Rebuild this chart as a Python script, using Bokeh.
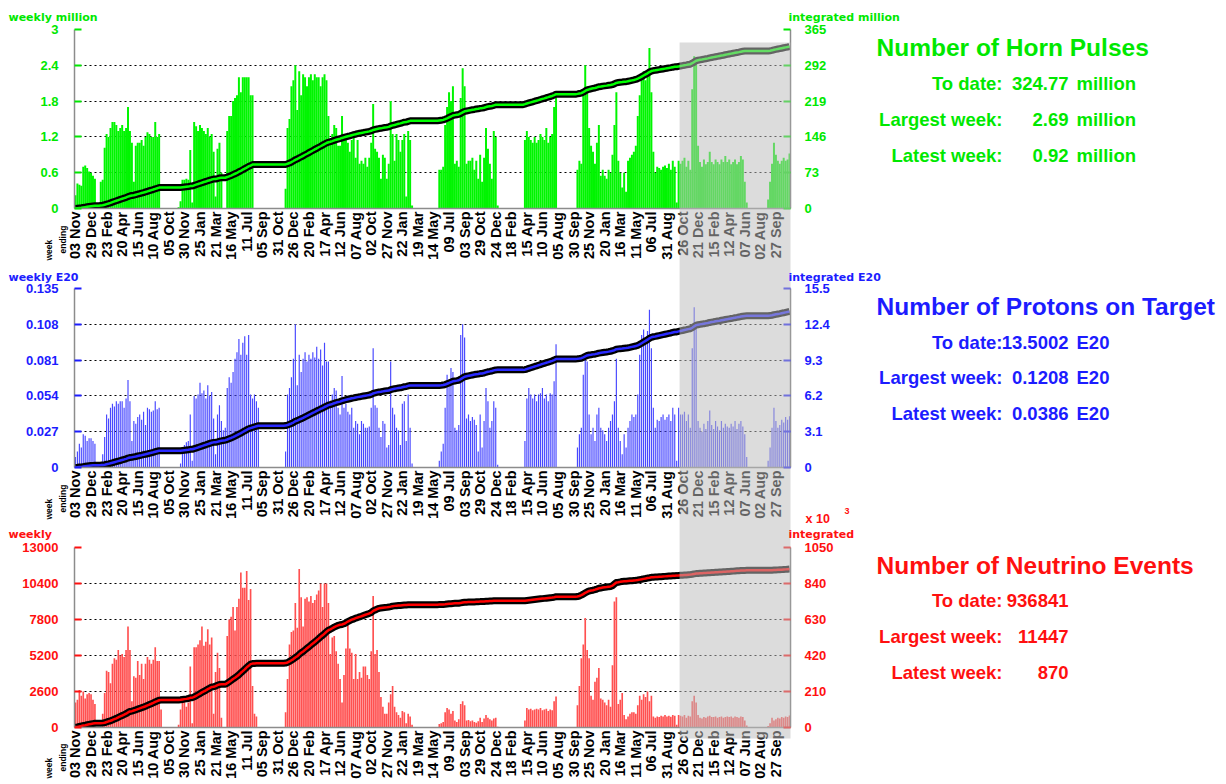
import numpy as np
from bokeh.plotting import figure
from bokeh.models import Range1d, LinearAxis, FixedTicker
from bokeh.layouts import column
from bokeh.embed import file_html
from bokeh.resources import INLINE
from bokeh.core.properties import value

# ---------------- data (one row = 8 weeks) ----------------
horn_weekly = [
    0.22, 0.42, 0.40, 0.38, 0.70, 0.72, 0.68, 0.62,
    0.60, 0.55, 0.50, 0.00, 0.00, 0.45, 0.48, 1.02,
    1.25, 1.20, 1.35, 1.45, 1.45, 1.40, 1.30, 1.35,
    1.40, 1.30, 1.35, 1.70, 1.30, 1.10, 0.45, 1.05,
    1.10, 1.10, 1.15, 1.05, 1.20, 1.28, 1.25, 1.20,
    1.20, 1.45, 1.20, 1.25, 0.00, 0.00, 0.00, 0.00,
    0.00, 0.00, 0.00, 0.00, 0.00, 0.02, 0.12, 0.48,
    0.48, 0.50, 0.48, 0.98, 0.10, 1.45, 1.38, 1.30,
    1.40, 1.35, 1.30, 1.25, 1.35, 1.20, 1.25, 0.95,
    0.20, 1.00, 1.10, 0.60, 0.00, 0.00, 1.30, 1.55,
    1.55, 1.80, 1.85, 1.90, 2.20, 1.95, 2.20, 2.20,
    2.20, 2.20, 1.90, 1.90, 0.00, 0.00, 0.00, 0.00,
    0.00, 0.00, 0.00, 0.00, 0.00, 0.00, 0.00, 0.00,
    0.00, 0.00, 0.00, 0.00, 0.33, 1.35, 1.50, 2.05,
    2.15, 2.40, 1.65, 2.30, 1.90, 2.25, 2.20, 2.05,
    2.20, 2.25, 2.15, 2.25, 2.20, 2.20, 2.05, 2.20,
    2.25, 2.15, 1.55, 1.15, 1.25, 1.40, 1.35, 1.05,
    1.05, 1.55, 1.15, 1.15, 1.10, 0.95, 1.15, 1.20,
    0.85, 1.15, 0.75, 0.80, 0.75, 0.85, 0.70, 0.85,
    1.10, 1.75, 1.00, 0.95, 0.85, 0.50, 0.90, 0.85,
    0.50, 0.75, 1.80, 1.25, 0.80, 1.25, 1.15, 0.95,
    1.15, 1.25, 0.20, 1.30, 1.15, 0.05, 0.00, 0.00,
    0.00, 0.00, 0.00, 0.00, 0.00, 0.00, 0.00, 0.00,
    0.00, 0.00, 0.00, 0.65, 0.65, 0.70, 1.40, 1.70,
    1.95, 1.80, 2.05, 0.75, 0.80, 0.70, 1.85, 2.35,
    2.05, 0.75, 0.80, 0.80, 0.85, 0.65, 0.80, 0.50,
    0.90, 0.45, 0.85, 1.35, 1.00, 0.75, 0.50, 1.30,
    1.20, 0.05, 0.00, 0.00, 0.00, 0.00, 0.00, 0.00,
    0.00, 0.00, 0.00, 0.00, 0.00, 0.00, 0.00, 1.15,
    1.30, 1.20, 1.15, 1.10, 1.20, 1.10, 1.15, 1.25,
    1.20, 1.15, 1.35, 1.10, 1.20, 1.25, 1.70, 1.90,
    0.00, 0.00, 0.00, 0.00, 0.00, 0.00, 0.00, 0.00,
    0.00, 0.00, 0.65, 0.80, 0.75, 1.95, 2.40, 2.05,
    1.35, 1.05, 0.95, 0.75, 1.10, 1.40, 0.55, 0.65,
    0.55, 0.50, 0.65, 0.60, 0.90, 1.40, 1.95, 0.80,
    0.60, 0.35, 0.60, 0.28, 0.80, 0.85, 0.90, 0.95,
    1.05, 1.55, 1.90, 2.25, 2.30, 2.15, 2.25, 2.69,
    1.95, 0.95, 0.60, 0.70, 0.68, 0.65, 0.70, 0.72,
    0.68, 0.75, 0.65, 0.80, 0.70, 0.10, 0.80, 0.75,
    0.80, 0.85, 0.70, 0.80, 0.65, 2.00, 2.55, 2.45,
    1.05, 0.78, 0.70, 0.82, 0.74, 0.78, 0.95, 0.78,
    0.74, 0.82, 0.78, 0.74, 0.82, 0.78, 0.88, 0.78,
    0.82, 0.74, 0.78, 0.82, 0.74, 0.78, 0.88, 0.82,
    0.45, 0.10, 0.00, 0.00, 0.00, 0.00, 0.00, 0.00,
    0.00, 0.00, 0.00, 0.00, 0.15, 0.45, 0.75, 1.10,
    0.90, 0.80, 0.75, 0.80, 0.85, 0.80, 0.82, 0.92,
]

pot_weekly = [
    0.008, 0.012, 0.018, 0.015, 0.025, 0.024, 0.020, 0.022,
    0.022, 0.020, 0.018, 0.000, 0.000, 0.003, 0.010, 0.023,
    0.040, 0.037, 0.045, 0.048, 0.046, 0.050, 0.048, 0.050,
    0.050, 0.045, 0.052, 0.066, 0.050, 0.020, 0.035, 0.033,
    0.038, 0.040, 0.036, 0.042, 0.032, 0.045, 0.044, 0.042,
    0.043, 0.050, 0.044, 0.045, 0.000, 0.000, 0.000, 0.000,
    0.000, 0.000, 0.000, 0.000, 0.000, 0.000, 0.003, 0.015,
    0.017, 0.019, 0.020, 0.040, 0.005, 0.054, 0.052, 0.055,
    0.064, 0.056, 0.058, 0.052, 0.062, 0.054, 0.057, 0.037,
    0.010, 0.040, 0.047, 0.035, 0.028, 0.030, 0.060, 0.068,
    0.064, 0.072, 0.082, 0.087, 0.097, 0.085, 0.094, 0.099,
    0.085, 0.100, 0.055, 0.052, 0.055, 0.050, 0.045, 0.000,
    0.000, 0.000, 0.000, 0.000, 0.000, 0.000, 0.000, 0.000,
    0.000, 0.000, 0.000, 0.000, 0.012, 0.055, 0.060, 0.068,
    0.082, 0.108, 0.062, 0.085, 0.072, 0.082, 0.087, 0.080,
    0.085, 0.082, 0.087, 0.083, 0.091, 0.082, 0.089, 0.077,
    0.094, 0.080, 0.080, 0.050, 0.055, 0.060, 0.058, 0.045,
    0.040, 0.069, 0.045, 0.048, 0.042, 0.040, 0.045, 0.030,
    0.035, 0.033, 0.025, 0.035, 0.033, 0.030, 0.030, 0.031,
    0.045, 0.090, 0.047, 0.045, 0.030, 0.023, 0.035, 0.033,
    0.015, 0.017, 0.080, 0.045, 0.040, 0.030, 0.028, 0.017,
    0.048, 0.050, 0.020, 0.055, 0.030, 0.003, 0.000, 0.000,
    0.000, 0.000, 0.000, 0.000, 0.000, 0.000, 0.000, 0.000,
    0.000, 0.000, 0.000, 0.005, 0.012, 0.018, 0.045, 0.070,
    0.065, 0.075, 0.072, 0.030, 0.028, 0.032, 0.100, 0.108,
    0.098, 0.037, 0.040, 0.035, 0.038, 0.036, 0.032, 0.012,
    0.040, 0.015, 0.035, 0.060, 0.050, 0.030, 0.035, 0.050,
    0.045, 0.002, 0.000, 0.000, 0.000, 0.000, 0.000, 0.000,
    0.000, 0.000, 0.000, 0.000, 0.000, 0.000, 0.000, 0.020,
    0.052, 0.060, 0.055, 0.052, 0.055, 0.050, 0.055, 0.056,
    0.060, 0.052, 0.055, 0.050, 0.056, 0.055, 0.065, 0.093,
    0.000, 0.000, 0.000, 0.000, 0.000, 0.000, 0.000, 0.000,
    0.000, 0.000, 0.015, 0.025, 0.030, 0.070, 0.085, 0.080,
    0.040, 0.025, 0.030, 0.020, 0.040, 0.045, 0.030, 0.028,
    0.025, 0.020, 0.030, 0.035, 0.040, 0.050, 0.082, 0.030,
    0.020, 0.010, 0.025, 0.015, 0.030, 0.035, 0.040, 0.038,
    0.040, 0.055, 0.085, 0.100, 0.104, 0.098, 0.103, 0.119,
    0.090, 0.045, 0.030, 0.036, 0.035, 0.038, 0.040, 0.036,
    0.038, 0.040, 0.035, 0.045, 0.040, 0.005, 0.045, 0.040,
    0.040, 0.042, 0.035, 0.040, 0.030, 0.090, 0.1208, 0.105,
    0.035, 0.030, 0.027, 0.033, 0.029, 0.035, 0.043, 0.032,
    0.029, 0.035, 0.031, 0.028, 0.035, 0.030, 0.033, 0.031,
    0.030, 0.033, 0.031, 0.035, 0.029, 0.033, 0.035, 0.031,
    0.025, 0.008, 0.000, 0.000, 0.000, 0.000, 0.000, 0.000,
    0.000, 0.000, 0.000, 0.000, 0.005, 0.015, 0.030, 0.045,
    0.035, 0.030, 0.032, 0.036, 0.034, 0.038, 0.036, 0.0386,
]

nu_weekly = [
    1800, 2000, 2700, 2300, 2600, 2100, 2400, 2500,
    2400, 2000, 1700, 0, 0, 0, 1000, 2500,
    4100, 4000, 3200, 4600, 5000, 4900, 5600, 5200,
    5300, 5100, 5600, 7300, 5600, 1900, 3700, 3600,
    4800, 3800, 4600, 3500, 4600, 5100, 4900, 4600,
    4900, 5800, 4800, 4800, 1300, 0, 0, 0,
    0, 0, 0, 0, 0, 200, 1300, 1800,
    2000, 1500, 1800, 4400, 300, 5800, 5800, 6000,
    6300, 7300, 5900, 6200, 7100, 6000, 6500, 1000,
    4000, 5400, 4300, 700, 0, 0, 6600, 7800,
    8000, 8700, 7000, 8700, 9300, 11200, 10100, 10100,
    11300, 9200, 10000, 3000, 1000, 800, 0, 0,
    0, 0, 0, 0, 0, 0, 0, 0,
    0, 0, 0, 0, 1100, 3500, 6000, 6900,
    7000, 9000, 7200, 11447, 9400, 7300, 9300, 9400,
    9100, 9500, 9000, 9200, 9600, 9900, 10400, 8700,
    10400, 10400, 9000, 5300, 6500, 6600, 5500, 4600,
    3500, 1800, 3800, 5700, 7400, 5700, 5400, 3500,
    5300, 3500, 4000, 3600, 4400, 4400, 3800, 3500,
    5500, 9500, 5300, 5600, 4000, 2200, 1500, 1000,
    1000, 1800, 2400, 3000, 1500, 1100, 900, 700,
    1200, 1100, 300, 1000, 800, 200, 0, 0,
    0, 0, 0, 0, 0, 0, 0, 0,
    0, 0, 0, 250, 300, 400, 1100, 1400,
    1300, 1000, 1200, 500, 400, 600, 1700, 1900,
    1600, 500, 550, 450, 500, 400, 350, 450,
    700, 400, 650, 900, 700, 600, 500, 650,
    700, 50, 0, 0, 0, 0, 0, 0,
    0, 0, 0, 0, 0, 0, 0, 500,
    1400, 1300, 1350, 1250, 1300, 1350, 1300, 1400,
    1250, 1300, 1350, 1200, 1300, 1250, 1900, 2230,
    0, 0, 0, 0, 0, 0, 0, 0,
    0, 0, 1600, 3000, 5000, 6000, 7900, 5600,
    5000, 2300, 2000, 3300, 3600, 4300, 2100, 2000,
    1800, 1600, 2000, 1500, 4500, 9100, 9400, 1700,
    2000, 2500, 900, 600, 800, 1000, 1100, 1100,
    1000, 1600, 2300, 2000, 2400, 2200, 2600, 1900,
    2300, 800, 700, 800, 750, 850, 800, 900,
    800, 850, 780, 900, 850, 200, 900, 850,
    800, 900, 700, 850, 800, 1900, 2300, 1800,
    900, 700, 650, 750, 700, 800, 850, 750,
    750, 800, 700, 750, 800, 700, 750, 800,
    750, 800, 700, 800, 750, 700, 800, 750,
    500, 150, 0, 0, 0, 0, 0, 0,
    0, 0, 0, 0, 100, 300, 700, 500,
    600, 700, 650, 750, 700, 800, 750, 870,
]

date_labels = ["03 Nov", "29 Dec", "23 Feb", "20 Apr", "15 Jun", "10 Aug", "05 Oct", "30 Nov",
               "25 Jan", "21 Mar", "16 May", "11 Jul", "05 Sep", "31 Oct", "26 Dec", "20 Feb",
               "17 Apr", "12 Jun", "07 Aug", "02 Oct", "27 Nov", "22 Jan", "19 Mar", "14 May",
               "09 Jul", "03 Sep", "29 Oct", "24 Dec", "18 Feb", "15 Apr", "10 Jun", "05 Aug",
               "30 Sep", "25 Nov", "20 Jan", "16 Mar", "11 May", "06 Jul", "31 Aug", "26 Oct",
               "21 Dec", "15 Feb", "12 Apr", "07 Jun", "02 Aug", "27 Sep"]
date_tick_weeks = [8 * k for k in range(len(date_labels))]

horn_left_ticks = [0, 0.6, 1.2, 1.8, 2.4, 3]
horn_left_labels = ["0", "0.6", "1.2", "1.8", "2.4", "3"]
horn_right_ticks = [0, 73, 146, 219, 292, 365]
horn_right_labels = ["0", "73", "146", "219", "292", "365"]
pot_left_ticks = [0, 0.027, 0.054, 0.081, 0.108, 0.135]
pot_left_labels = ["0", "0.027", "0.054", "0.081", "0.108", "0.135"]
pot_right_ticks = [0, 3.1, 6.2, 9.3, 12.4, 15.5]
pot_right_labels = ["0", "3.1", "6.2", "9.3", "12.4", "15.5"]
nu_left_ticks = [0, 2600, 5200, 7800, 10400, 13000]
nu_left_labels = ["0", "2600", "5200", "7800", "10400", "13000"]
nu_right_ticks = [0, 210, 420, 630, 840, 1050]
nu_right_labels = ["0", "210", "420", "630", "840", "1050"]

horn_stats = [("To date:", "324.77", "million"), ("Largest week:", "2.69", "million"),
              ("Latest week:", "0.92", "million")]
pot_stats = [("To date:", "13.5002", "E20"), ("Largest week:", "0.1208", "E20"),
             ("Latest week:", "0.0386", "E20")]
nu_stats = [("To date:", "936841", ""), ("Largest week:", "11447", ""), ("Latest week:", "870", "")]

NW = len(horn_weekly)
weeks = np.arange(NW)
horn_int = np.cumsum(horn_weekly)
pot_int = np.cumsum(pot_weekly)
nu_int = np.cumsum(nu_weekly) / 1000.0

# ---------------- geometry / style ----------------
PAGE_W, PAGE_H = 1226, 784
FRAME_L = 74
FRAME_W = 716
SHADE_FROM = 310.5          # week index where the shaded (projected) period starts
GREEN_T, GREEN_B = "#00e800", "#00f500"
BLUE_T, BLUE_B = "#1c1cff", "#4848ff"
RED_T, RED_B = "#ff1010", "#ff5050"
AXIS_GREY = "#8c8c8c"
SANS = "Liberation Sans"
DV = "DejaVu Sans"


def style_yaxis(ax, color, ticks, labels, standoff):
    ax.ticker = FixedTicker(ticks=ticks)
    ax.major_label_overrides = dict(zip(ticks, labels))
    ax.major_tick_in = 7
    ax.major_tick_out = 0
    ax.minor_tick_line_color = None
    ax.major_tick_line_color = color
    ax.major_tick_line_width = 2
    ax.axis_line_color = AXIS_GREY
    ax.axis_line_width = 1.5
    ax.major_label_text_color = color
    ax.major_label_text_font = SANS
    ax.major_label_text_font_style = "bold"
    ax.major_label_text_font_size = "13px"
    ax.major_label_standoff = standoff


def build(borders, ylim, weekly, integ, bar_color, bar_width, inner, color, lt, ll, rt, rl, int_lim):
    top, fh, bot = borders
    p = figure(width=PAGE_W, height=top + fh + bot, x_range=Range1d(-0.5, NW - 0.5),
               y_range=Range1d(*ylim), output_backend="svg", toolbar_location=None,
               min_border_left=FRAME_L, min_border_right=PAGE_W - FRAME_L - FRAME_W,
               min_border_top=top, min_border_bottom=bot, outline_line_color=None,
               background_fill_color="white", border_fill_color="white")
    p.extra_y_ranges = {"int": Range1d(*int_lim)}

    p.vbar(x=weeks, top=weekly, bottom=0, width=bar_width, fill_color=bar_color, line_color=None)
    p.line(weeks, integ, y_range_name="int", line_color="black", line_width=7, line_join="round")
    p.line(weeks, integ, y_range_name="int", line_color=inner, line_width=2.5, line_join="round")

    style_yaxis(p.yaxis[0], color, lt, ll, 16)
    rax = LinearAxis(y_range_name="int")
    style_yaxis(rax, color, rt, rl, 14)
    p.add_layout(rax, "right")

    xa = p.xaxis[0]
    xa.ticker = FixedTicker(ticks=date_tick_weeks)
    xa.major_label_overrides = dict(zip(date_tick_weeks, date_labels))
    xa.major_label_orientation = np.pi / 2
    xa.major_tick_line_color = None
    xa.minor_tick_line_color = None
    xa.major_tick_in = 0
    xa.major_tick_out = 0
    xa.minor_tick_out = 0
    xa.major_label_standoff = 3
    xa.axis_line_color = AXIS_GREY
    xa.axis_line_width = 1.5
    xa.major_label_text_font = SANS
    xa.major_label_text_font_style = "bold"
    xa.major_label_text_font_size = "14.5px"
    xa.major_label_text_color = "black"

    p.xgrid.visible = False
    p.ygrid.grid_line_color = "black"
    p.ygrid.grid_line_dash = "2 3"
    p.ygrid.grid_line_width = 1
    return p


B1, B2, B3 = (29, 180, 53), (26, 180, 53), (26, 180, 57)
p1 = build(B1, (0, 3), horn_weekly, horn_int, GREEN_B, 1.02, "#00ff00", GREEN_T,
           horn_left_ticks, horn_left_labels, horn_right_ticks, horn_right_labels, (0, 365))
p2 = build(B2, (0, 0.135), pot_weekly, pot_int, BLUE_B, 0.6, "#2a2aff", BLUE_T,
           pot_left_ticks, pot_left_labels, pot_right_ticks, pot_right_labels, (0, 15.5))
p3 = build(B3, (0, 13000), nu_weekly, nu_int, RED_B, 0.85, "#ff0000", RED_T,
           nu_left_ticks, nu_left_labels, nu_right_ticks, nu_right_labels, (0, 1050))

# frame bottoms on the page (px from the top)
fb1 = B1[0] + B1[1]
fb2 = sum(B1) + B2[0] + B2[1]
fb3 = sum(B1) + sum(B2) + B3[0] + B3[1]

# ---------------- transparent overlay (texts outside the frames, shaded period) ----------------
ov = figure(width=PAGE_W, height=PAGE_H, x_range=Range1d(0, PAGE_W), y_range=Range1d(0, PAGE_H),
            output_backend="svg", toolbar_location=None, min_border=0,
            x_axis_location=None, y_axis_location=None, outline_line_color=None,
            background_fill_color=None, border_fill_color=None)
ov.grid.visible = False


def Y(py):
    return PAGE_H - py


def put(items, color, size, font=SANS, align="left", baseline="alphabetic", angle=0.0):
    ov.text(x=[i[0] for i in items], y=[Y(i[1]) for i in items], text=[i[2] for i in items],
            text_color=color, text_font=value(font), text_font_style="bold",
            text_font_size=value(f"{size}px"), text_align=align, text_baseline=baseline,
            angle=angle)


# shaded projection period: from week SHADE_FROM to the end of the axis
px_per_week = FRAME_W / NW
shade_left = FRAME_L + (SHADE_FROM + 0.5) * px_per_week
shade_right = FRAME_L + FRAME_W
ov.quad(left=[shade_left], right=[shade_right], top=[Y(42)], bottom=[Y(738)],
        fill_color="#bdbdbd", fill_alpha=0.53, line_color=None)

# axis captions
put([(8, 17, "weekly million"), (788, 17, "integrated million")], GREEN_T, 11, font=DV)
put([(8, 277, "weekly E20"), (788, 277, "integrated E20")], BLUE_T, 11, font=DV)
put([(8, 534, "weekly"), (788, 534, "integrated")], RED_T, 11, font=DV)
put([(805, 518, "x 10")], RED_T, 12.5)
put([(844, 510, "3")], RED_T, 9)

for fb in (fb1, fb2, fb3):
    off = fb - 209
    put([(48.5, 260 + off, "week"), (62.5, 253 + off, "ending")], "black", 8.5,
        baseline="middle", angle=np.pi / 2)

# summary blocks on the right
for color, title, tb, rows, bases in [
        (GREEN_T, "Number of Horn Pulses", 47, horn_stats, [83, 119, 155]),
        (BLUE_T, "Number of Protons on Target", 305.5, pot_stats, [341.5, 377, 412.5]),
        (RED_T, "Number of Neutrino Events", 565, nu_stats, [600, 636, 671.5])]:
    put([(876, tb, title)], color, 24.5)
    put([(1002, b, r[0]) for r, b in zip(rows, bases)], color, 18.5, align="right")
    put([(1068, b, r[1]) for r, b in zip(rows, bases)], color, 18.5, align="right")
    units = [(1076, b, r[2]) for r, b in zip(rows, bases) if r[2]]
    if units:
        put(units, color, 18.5)

panels = column(p1, p2, p3)
layout = column(panels, ov)
ov.margin = (-PAGE_H, 0, 0, 0)
open("out.html", "w").write(file_html(layout, INLINE))
